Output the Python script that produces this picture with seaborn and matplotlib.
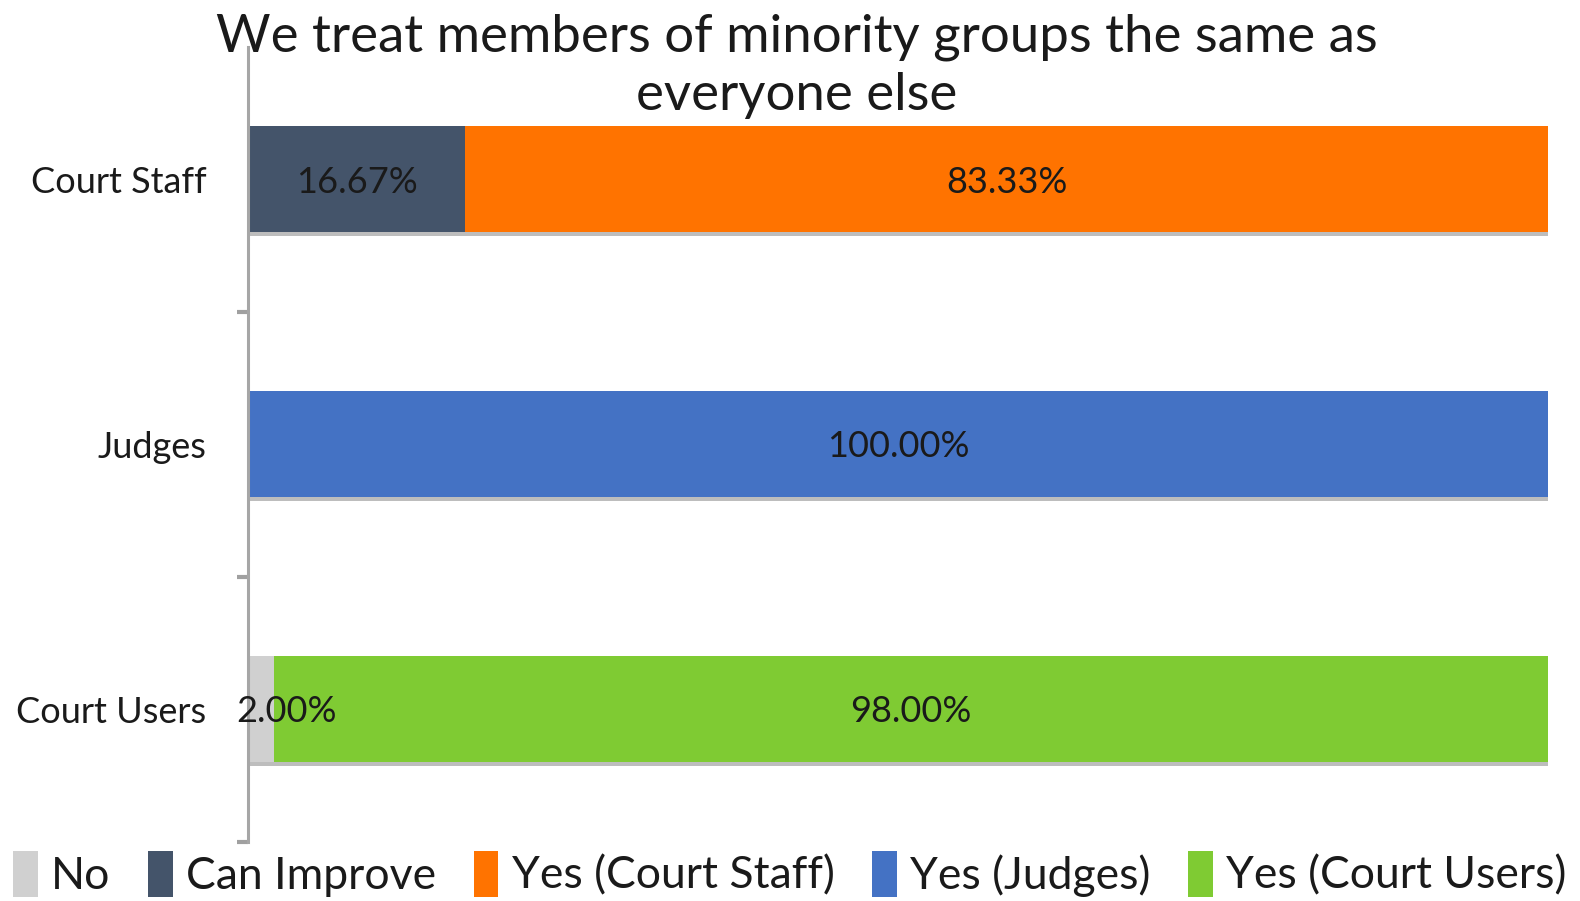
import matplotlib
matplotlib.use("Agg")
import matplotlib.pyplot as plt
import matplotlib.patheffects as pe
from matplotlib.patches import Patch
import numpy as np
import pandas as pd
import seaborn as sns

# Survey responses (percent of respondents)
groups = ["Court Staff", "Judges", "Court Users"]
series = ["No", "Can Improve", "Yes (Court Staff)", "Yes (Judges)", "Yes (Court Users)"]
no_vals = [0.0, 0.0, 2.00]
can_improve_vals = [16.67, 0.0, 0.0]
yes_staff_vals = [83.33, 0.0, 0.0]
yes_judges_vals = [0.0, 100.00, 0.0]
yes_users_vals = [0.0, 0.0, 98.00]
title = "We treat members of minority groups the same as\neveryone else"

colors = ["#D0D0D0", "#44546A", "#FF7300", "#4472C4", "#7FCB33"]

sns.set_theme(style="white")
plt.rcParams["font.family"] = ["Lato", "DejaVu Sans"]

values = np.array([no_vals, can_improve_vals, yes_staff_vals,
                   yes_judges_vals, yes_users_vals])
cum = values.cumsum(axis=0)

rows = []
for i, s in enumerate(series):
    for j, g in enumerate(groups):
        rows.append({"group": g, "series": s, "value": values[i, j],
                     "start": cum[i, j] - values[i, j], "end": cum[i, j]})
df = pd.DataFrame(rows)

fig = plt.figure(figsize=(15.8, 9.01), dpi=100)
ax = fig.add_axes([0.157, 0.066, 0.823, 0.882])

# Stacked bars: draw cumulative totals from the last series to the first
for i in reversed(range(len(series))):
    sub = df[df["series"] == series[i]]
    n_before = len(ax.patches)
    sns.barplot(data=sub, x="end", y="group", order=groups, color=colors[i],
                orient="h", width=0.4, saturation=1, ax=ax, linewidth=0,
                errorbar=None)
    if i == len(series) - 1:
        for p in ax.patches[n_before:]:
            p.set_path_effects([
                pe.SimplePatchShadow(offset=(0, -3), shadow_rgbFace="#888888",
                                     alpha=0.55),
                pe.Normal()])

# Value labels in the middle of each non-empty segment
for _, r in df[df["value"] > 0].iterrows():
    y = groups.index(r["group"])
    shift = 18 if r["value"] < 5 else 0
    ax.annotate(f"{r['value']:.2f}%", xy=((r["start"] + r["end"]) / 2, y),
                xytext=(shift, -2), textcoords="offset points",
                ha="center", va="center", fontsize=26, color="#1a1a1a")

ax.set_xlim(0, 100)
ax.set_ylim(2.5, -0.5)
ax.set_xlabel("")
ax.set_ylabel("")
ax.set_xticks([])
ax.tick_params(axis="y", which="major", left=False, length=0, pad=30,
               labelsize=26, labelcolor="#1a1a1a")
ax.set_yticks([0.5, 1.5, 2.5], minor=True)
ax.tick_params(axis="y", which="minor", left=True, length=8, width=3,
               color="#A0A0A0", direction="out")
for side in ["top", "right", "bottom"]:
    ax.spines[side].set_visible(False)
ax.spines["left"].set_color("#A6A6A6")
ax.spines["left"].set_linewidth(2.2)

fig.text(0.504, 0.985, title, ha="center", va="top", fontsize=38,
         color="#1a1a1a", linespacing=1.3)

handles = [Patch(facecolor=c, edgecolor="none") for c in colors]
fig.legend(handles, series, loc="center", bbox_to_anchor=(0.5, 0.03),
           ncol=5, frameon=False, fontsize=32, handlelength=0.55,
           handleheight=1.2, handletextpad=0.3, columnspacing=0.85,
           labelcolor="#1a1a1a")

fig.savefig("out.png", dpi=100)
